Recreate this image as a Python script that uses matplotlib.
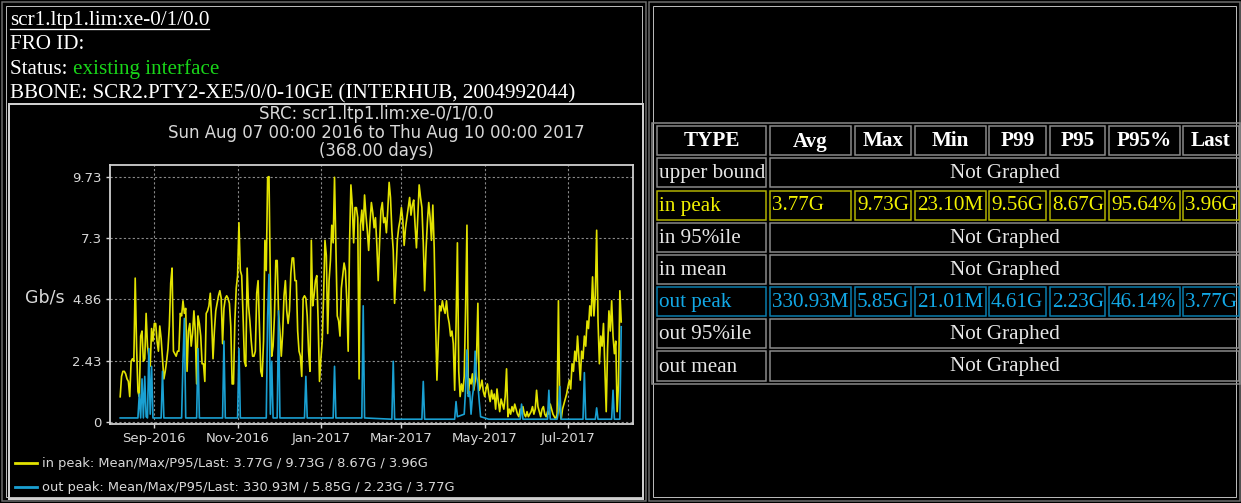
# Traffic graph page: header text, RRD-style chart and stats table
import numpy as np
import pandas as pd
import matplotlib
matplotlib.use("Agg")
import matplotlib.pyplot as plt
import matplotlib.dates as mdates
from matplotlib.patches import Rectangle
from matplotlib.lines import Line2D

W, H = 1241, 503

# ---- data ----
start_date = "2016-08-07"
in_peak = [
    0.99, 1.8, 2.0, 2.0, 1.9, 1.7, 1.6, 1.0, 2.4, 2.5, 2.4, 5.7, 3.0, 1.2, 1.0, 3.4, 3.6, 2.4, 2.5, 4.3,
    3.0, 2.6, 2.2, 3.7, 3.2, 3.9, 3.9, 3.2, 2.8, 3.8, 3.3, 2.5, 1.7, 2.0, 2.4, 2.9, 3.8, 5.5, 6.1, 2.8,
    2.7, 2.6, 2.8, 2.8, 4.3, 4.2, 4.8, 4.3, 4.5, 2.0, 3.6, 3.9, 3.0, 3.5, 4.4, 3.6, 1.5, 4.2, 3.9, 3.4,
    2.3, 2.3, 1.6, 4.3, 4.4, 4.6, 5.1, 4.0, 2.5, 3.6, 4.4, 4.7, 5.0, 5.2, 4.9, 3.1, 4.5, 4.9, 5.0, 4.9,
    4.7, 3.8, 1.5, 1.5, 4.0, 5.3, 5.8, 7.9, 6.0, 5.8, 4.2, 2.4, 2.2, 6.1, 4.6, 4.0, 3.2, 2.6, 2.6, 2.8,
    5.1, 5.6, 3.8, 2.0, 1.8, 3.2, 7.2, 6.0, 9.7, 9.73, 5.5, 2.6, 3.0, 4.2, 6.4, 6.4, 4.3, 3.6, 2.6, 3.5,
    5.0, 5.6, 4.4, 3.9, 4.4, 5.9, 6.5, 6.5, 5.6, 5.6, 3.6, 2.8, 2.6, 1.8, 4.9, 5.0, 4.9, 4.2, 2.8, 2.0,
    7.2, 4.6, 5.0, 5.6, 5.8, 4.0, 1.6, 2.5, 3.2, 5.0, 7.2, 6.6, 3.5, 5.6, 6.4, 7.8, 7.1, 9.7, 7.0, 4.2,
    4.0, 3.4, 5.3, 5.8, 6.3, 6.0, 4.8, 2.8, 7.1, 9.4, 8.6, 7.1, 8.5, 8.5, 8.1, 1.7, 7.8, 8.4, 7.6, 9.0,
    8.2, 7.6, 6.8, 7.9, 8.7, 8.3, 7.7, 8.1, 7.0, 5.6, 7.1, 8.4, 8.7, 7.9, 8.1, 7.5, 8.4, 9.5, 8.9, 7.6,
    6.8, 4.7, 5.9, 7.2, 7.7, 8.0, 8.5, 8.0, 7.0, 7.7, 8.1, 8.5, 8.9, 8.2, 8.6, 8.8, 7.8, 6.9, 8.2, 9.4,
    8.9, 8.5, 7.1, 5.2, 6.8, 7.9, 8.7, 8.1, 7.2, 8.6, 6.9, 4.0, 1.65, 3.2, 4.6, 4.4, 4.8, 4.5, 4.3, 4.8,
    4.2, 3.9, 3.4, 3.6, 3.1, 1.25, 3.8, 7.1, 2.0, 1.0, 1.5, 1.2, 1.8, 4.5, 7.8, 1.1, 1.7, 1.5, 1.9, 1.25,
    1.6, 2.5, 4.7, 1.25, 1.4, 1.65, 1.2, 1.0, 1.3, 1.5, 1.1, 0.8, 1.25, 0.9, 1.1, 0.5, 1.3, 0.8, 0.4, 0.9,
    0.7, 0.5, 1.0, 2.1, 0.2, 0.5, 0.3, 0.6, 0.4, 0.7, 0.5, 0.3, 0.2, 0.5, 0.4, 0.6, 0.3, 0.2, 0.4, 0.2,
    0.3, 0.4, 0.6, 0.3, 0.5, 1.25, 0.6, 0.4, 0.2, 0.5, 0.6, 0.3, 0.2, 0.4, 0.3, 0.7, 0.5, 0.3, 0.2, 0.1,
    0.3, 4.8, 0.5, 0.1, 0.5, 0.7, 0.9, 1.1, 1.4, 1.65, 1.3, 2.3, 2.0, 2.8, 2.4, 3.4, 2.5, 1.65, 2.8, 2.5,
    3.4, 3.0, 4.0, 3.7, 4.6, 4.2, 5.75, 4.2, 5.0, 7.6, 4.0, 2.3, 3.4, 3.0, 3.9, 2.2, 0.4, 2.9, 4.4, 3.6,
    4.8, 3.4, 2.7, 3.2, 0.4, 1.5, 5.2, 3.96,
]

# out peak: mostly flat, sampled where it moves (day offset, Gb/s)
out_days = [0, 13, 14, 15, 16, 17, 18, 19, 20, 21, 22, 23, 24, 30, 31, 32, 45, 46, 47, 48,
            56, 57, 58, 75, 76, 77, 86, 87, 88, 107, 108, 109, 110, 111, 112, 115, 116, 117,
            135, 136, 137, 156, 157, 158, 177, 178, 179, 199, 200, 201, 221, 222, 223,
            245, 246, 247, 252, 253, 254, 255, 256, 257, 258, 259, 260, 261, 262, 263, 264,
            270, 293, 294, 295, 313, 314, 315, 320, 321, 322, 323, 339, 340, 341,
            348, 349, 350, 360, 361, 362, 366, 367]
out_peak = [0.15, 0.15, 1.1, 0.15, 1.7, 0.15, 1.8, 0.2, 0.15, 2.9, 0.3, 2.2, 0.15, 0.15, 2.0, 0.15, 0.15, 2.4, 4.1, 0.15,
            0.15, 2.9, 0.15, 0.15, 3.2, 0.15, 0.15, 2.9, 0.15, 0.15, 4.2, 5.85, 0.3, 2.4, 0.15, 0.15, 4.4, 0.15,
            0.15, 1.8, 0.15, 0.15, 2.2, 0.15, 0.15, 4.6, 0.15, 0.1, 2.4, 0.1, 0.1, 1.6, 0.1,
            0.1, 0.8, 0.2, 0.3, 1.3, 2.85, 1.0, 1.2, 0.3, 1.0, 1.4, 2.8, 1.8, 1.5, 0.8, 0.2,
            0.1, 0.1, 0.7, 0.1, 0.1, 1.25, 0.1, 0.1, 0.4, 1.4, 0.1, 0.1, 1.95, 0.1,
            0.1, 0.55, 0.1, 0.1, 1.25, 0.1, 0.1, 3.77]

ytick_vals = [0, 2.43, 4.86, 7.3, 9.73]
ytick_text = ["0", "2.43", "4.86", "7.3", "9.73"]
month_ticks = ["2016-09-01", "2016-11-01", "2017-01-01", "2017-03-01", "2017-05-01", "2017-07-01"]

legend_in = "in peak: Mean/Max/P95/Last: 3.77G / 9.73G / 8.67G / 3.96G"
legend_out = "out peak: Mean/Max/P95/Last: 330.93M / 5.85G / 2.23G / 3.77G"

table_cols = ["TYPE", "Avg", "Max", "Min", "P99", "P95", "P95%", "Last"]
table_rows = ["upper bound", "in peak", "in 95%ile", "in mean", "out peak", "out 95%ile", "out mean"]
row_stats = {
    "in peak": ["3.77G", "9.73G", "23.10M", "9.56G", "8.67G", "95.64%", "3.96G"],
    "out peak": ["330.93M", "5.85G", "21.01M", "4.61G", "2.23G", "46.14%", "3.77G"],
}

# ---- styles ----
YEL = "#e2e200"
BLU = "#1aa0d2"
GRID = "#8a8a8a"
TXT = "#d8d8d8"
SERIF = "Liberation Serif"
SANS = "DejaVu Sans"

fig = plt.figure(figsize=(W / 100, H / 100), dpi=100, facecolor="black")


def fx(x):
    return x / W


def fy(y):
    return 1 - y / H


def box(x0, y0, x1, y1, color, lw=1.0):
    fig.add_artist(Rectangle((fx(x0), fy(y1)), fx(x1) - fx(x0), fy(y0) - fy(y1),
                             transform=fig.transFigure, fill=False,
                             edgecolor=color, linewidth=lw * 0.72))


def hline(x0, x1, y, color, lw=1.0):
    fig.add_artist(Line2D([fx(x0), fx(x1)], [fy(y), fy(y)], transform=fig.transFigure,
                          color=color, linewidth=lw * 0.72))


# page frames (double borders)
box(2, 2, 646, 501, "#6e6e6e", 1.5)
box(6, 6, 642, 497, "#b8b8b8", 1.0)
box(649, 2, 1240, 501, "#6e6e6e", 1.5)
box(653, 6, 1236, 497, "#b8b8b8", 1.0)
box(9, 104, 643, 499, "#cfcfcf", 2.0)

# header lines
hdr_size = 15.2
t1 = fig.text(fx(10), fy(25), "scr1.ltp1.lim:xe-0/1/0.0", color="white",
              family=SERIF, size=hdr_size, va="baseline")
fig.text(fx(10), fy(49), "FRO ID:", color="white", family=SERIF, size=hdr_size, va="baseline")
t3 = fig.text(fx(10), fy(74), "Status: ", color="white", family=SERIF, size=hdr_size, va="baseline")
fig.text(fx(10), fy(98), "BBONE: SCR2.PTY2-XE5/0/0-10GE (INTERHUB, 2004992044)",
         color="white", family=SERIF, size=hdr_size, va="baseline")

fig.canvas.draw()
r = fig.canvas.get_renderer()
bb1 = t1.get_window_extent(r)
hline(bb1.x0, bb1.x1, 29, "white", 1.3)
bb3 = t3.get_window_extent(r)
fig.text(bb3.x1 / W, fy(74), "existing interface", color="#19d419",
         family=SERIF, size=hdr_size, va="baseline")

# ---- chart ----
ax = fig.add_axes([fx(110), fy(424), fx(633) - fx(110), fy(165) - fy(424)])
ax.set_facecolor("black")

dates_in = pd.date_range(start_date, periods=len(in_peak), freq="D")
dates_out = pd.Timestamp(start_date) + pd.to_timedelta(out_days, unit="D")

ax.plot(dates_in, in_peak, color=YEL, linewidth=1.2)
ax.plot(dates_out, out_peak, color=BLU, linewidth=1.2)

ax.set_xlim(pd.Timestamp("2016-07-30 13:00"), pd.Timestamp("2017-08-17 15:00"))
ax.set_ylim(-0.09, 10.19)
ax.set_yticks(ytick_vals)
ax.set_yticklabels(ytick_text)
ax.set_xticks(pd.to_datetime(month_ticks))
ax.xaxis.set_major_formatter(mdates.DateFormatter("%b-%Y"))
ax.tick_params(colors=TXT, labelsize=9.5, length=3, width=1, pad=3)
for lab in ax.get_xticklabels() + ax.get_yticklabels():
    lab.set_family(SANS)
    lab.set_color(TXT)
ax.grid(True, color=GRID, linestyle=(0, (2, 2)), linewidth=0.8)
for sp in ax.spines.values():
    sp.set_color("#d0d0d0")
    sp.set_linewidth(1.3)

# chart titles, centred over the plot area
cx = fx(376)
fig.text(cx, fy(114), "SRC: scr1.ltp1.lim:xe-0/1/0.0", color=TXT, family=SANS,
         size=11.9, ha="center", va="center")
fig.text(cx, fy(133), "Sun Aug 07 00:00 2016 to Thu Aug 10 00:00 2017", color=TXT,
         family=SANS, size=11.9, ha="center", va="center")
fig.text(cx, fy(151), "(368.00 days)", color=TXT, family=SANS, size=11.9,
         ha="center", va="center")
fig.text(fx(25), fy(298), "Gb/s", color=TXT, family=SANS, size=12.5, va="center")

# legend
for yy, col, label in [(463, YEL, legend_in), (487, BLU, legend_out)]:
    fig.add_artist(Line2D([fx(15), fx(37)], [fy(yy), fy(yy)], transform=fig.transFigure,
                          color=col, linewidth=2))
    fig.text(fx(42), fy(yy), label, color=TXT, family=SANS, size=9.4, va="center")

# ---- stats table ----
col_bounds = [(657, 766), (770, 851), (855, 911), (915, 986), (989, 1046),
              (1050, 1105), (1109, 1180), (1183, 1239)]
row_top = [126] + [158.3 + 32.2 * i for i in range(len(table_rows))]
cell_h = 29
tbl_size = 15.2

box(652, 123, 1240, 384, "#8c8c8c", 1.5)

hy = row_top[0]
for (x0, x1), name in zip(col_bounds, table_cols):
    box(x0, hy, x1, hy + cell_h, "#8c8c8c", 1.5)
    fig.text(fx((x0 + x1) / 2), fy(hy + cell_h / 2 + 1), name, color="white",
             family=SERIF, size=tbl_size, weight="bold", ha="center", va="center")

for i, name in enumerate(table_rows):
    y0 = row_top[i + 1]
    yc = fy(y0 + cell_h / 2 + 1)
    if name in row_stats:
        ec = "#b4b400" if name.startswith("in") else "#0a7fb0"
        tc = "#f0f000" if name.startswith("in") else "#12a8e6"
        cells = [name] + row_stats[name]
        for (x0, x1), val in zip(col_bounds, cells):
            box(x0, y0, x1, y0 + cell_h, ec, 1.5)
            fig.text(fx(x0 + 2), yc, val, color=tc, family=SERIF, size=tbl_size,
                     ha="left", va="center")
    else:
        x0, x1 = col_bounds[0]
        box(x0, y0, x1, y0 + cell_h, "#8c8c8c", 1.5)
        fig.text(fx(x0 + 2), yc, name, color="#e6e6e6", family=SERIF, size=tbl_size,
                 ha="left", va="center")
        mx0, mx1 = col_bounds[1][0], col_bounds[-1][1]
        box(mx0, y0, mx1, y0 + cell_h, "#8c8c8c", 1.5)
        fig.text(fx((mx0 + mx1) / 2), yc, "Not Graphed", color="#e6e6e6", family=SERIF,
                 size=tbl_size, ha="center", va="center")

fig.savefig("out.png", dpi=100, facecolor="black")
